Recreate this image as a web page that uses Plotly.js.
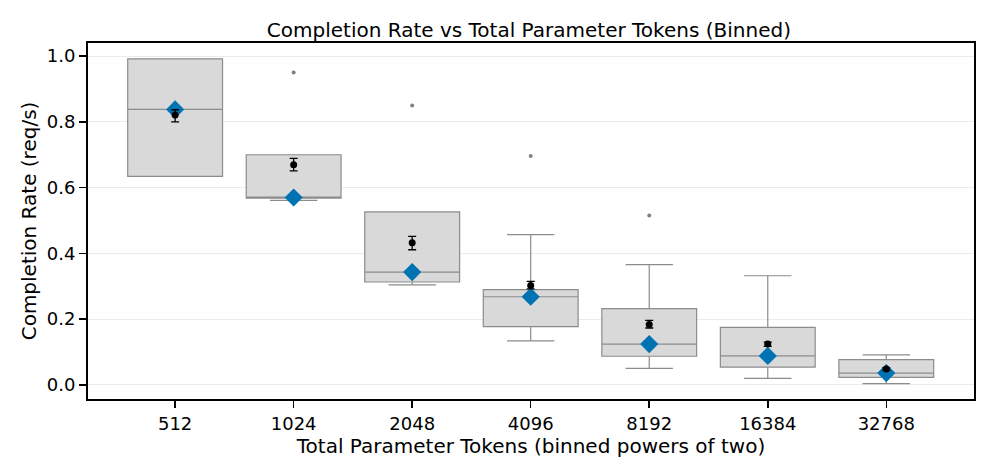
<!DOCTYPE html>
<html>
<head>
<meta charset="utf-8">
<script src="https://cdn.plot.ly/plotly-3.0.1.min.js"></script>
<style>html,body{margin:0;padding:0;background:#fff;}#chart{width:996px;height:476px;}</style>
</head>
<body>
<div id="chart"></div>
<script>
const categories = ["512", "1024", "2048", "4096", "8192", "16384", "32768"];
const q1Values = [0.634, 0.568, 0.313, 0.177, 0.087, 0.054, 0.023];
const medianValues = [0.838, 0.570, 0.343, 0.268, 0.124, 0.088, 0.036];
const q3Values = [0.992, 0.700, 0.526, 0.290, 0.232, 0.175, 0.077];
const lowerWhisker = [0.634, 0.561, 0.304, 0.134, 0.050, 0.020, 0.004];
const upperWhisker = [0.992, 0.700, 0.526, 0.457, 0.366, 0.332, 0.091];
const meanValues = [0.821, 0.670, 0.432, 0.302, 0.184, 0.124, 0.048];
const meanErrUp = [0.016, 0.019, 0.020, 0.013, 0.012, 0.006, 0.004];
const meanErrDown = [0.021, 0.019, 0.021, 0.010, 0.011, 0.007, 0.004];
const outlierCats = ["1024", "2048", "4096", "8192"];
const outlierValues = [0.950, 0.850, 0.696, 0.515];

const traces = [
  {
    type: "box",
    x: categories,
    q1: q1Values,
    median: medianValues,
    q3: q3Values,
    lowerfence: lowerWhisker,
    upperfence: upperWhisker,
    boxpoints: false,
    fillcolor: "#d9d9d9",
    line: {color: "#8c8c8c", width: 1.2},
    width: 0.8,
    whiskerwidth: 0.5,
    showlegend: false,
    hoverinfo: "skip"
  },
  {
    type: "scatter",
    mode: "markers",
    x: outlierCats,
    y: outlierValues,
    marker: {color: "#808080", size: 4},
    showlegend: false
  },
  {
    type: "scatter",
    mode: "markers",
    x: categories,
    y: medianValues,
    marker: {color: "#0173b2", size: 14, symbol: "diamond"},
    showlegend: false
  },
  {
    type: "scatter",
    mode: "markers",
    x: categories,
    y: meanValues,
    marker: {color: "#000000", size: 7},
    error_y: {type: "data", symmetric: false, array: meanErrUp, arrayminus: meanErrDown, color: "#000000", thickness: 1.3, width: 4},
    showlegend: false
  }
];

const layout = {
  width: 996,
  height: 476,
  margin: {l: 88, r: 22, t: 43, b: 77},
  paper_bgcolor: "#ffffff",
  plot_bgcolor: "#ffffff",
  font: {family: "DejaVu Sans", color: "#000000", size: 18},
  title: {text: "Completion Rate vs Total Parameter Tokens (Binned)", font: {size: 20, family: "DejaVu Sans"}, x: 0.531, xanchor: "center", y: 0.938, yanchor: "middle"},
  xaxis: {
    type: "category",
    range: [-0.735, 6.74],
    showline: true, mirror: true, linecolor: "#000000", linewidth: 2,
    ticks: "outside", ticklen: 7, tickwidth: 1.5, tickcolor: "#000000",
    showgrid: false, zeroline: false,
    tickfont: {size: 18},
    title: {text: "Total Parameter Tokens (binned powers of two)", font: {size: 20}, standoff: 2}
  },
  yaxis: {
    range: [-0.043, 1.04],
    tickvals: [0, 0.2, 0.4, 0.6, 0.8, 1.0],
    ticktext: ["0.0", "0.2", "0.4", "0.6", "0.8", "1.0"],
    showline: true, mirror: true, linecolor: "#000000", linewidth: 2,
    ticks: "outside", ticklen: 7, tickwidth: 1.5, tickcolor: "#000000",
    showgrid: true, gridcolor: "#ebebeb", gridwidth: 1,
    zeroline: false,
    tickfont: {size: 18},
    title: {text: "Completion Rate (req/s)", font: {size: 20}, standoff: 5}
  }
};

Plotly.newPlot("chart", traces, layout, {displayModeBar: false, staticPlot: true});
</script>
</body>
</html>
